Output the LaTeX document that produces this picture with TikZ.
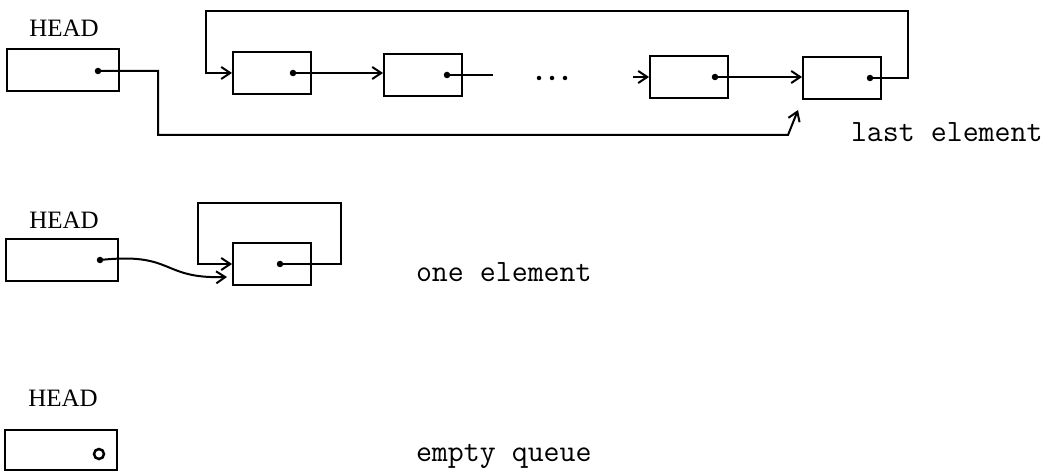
\documentclass[tikz,border=0pt]{standalone}
\usepackage{fontspec}
\setmainfont{Liberation Serif}
\newfontfamily\typewr{Latin Modern Mono}
\usetikzlibrary{arrows.meta}
\begin{document}
\begin{tikzpicture}[x=1pt,y=-1pt,
  line width=2pt,
  cell/.style={draw, rectangle, inner sep=0pt, minimum width=78pt, minimum height=42pt},
  headcell/.style={draw, rectangle, inner sep=0pt, minimum width=112pt, minimum height=42pt},
  headlabel/.style={inner sep=0pt, font=\fontsize{25}{25}\selectfont},
  caption/.style={inner sep=0pt, anchor=base west, font=\typewr\fontsize{31}{33}\selectfont},
  ptr/.style={fill, circle, inner sep=0pt, minimum size=6.5pt},
  link/.style={-{Straight Barb[length=9pt,width=12pt,line width=2pt]}}
]
\useasboundingbox (0,0) rectangle (1050,473);

% ---- queue with several elements ----
\node[headlabel] (lab1) at (64,28) {HEAD};
\node[headcell] (h1) at (62.5,70) {};
\node[ptr] (h1d) at (98,71) {};

\node[cell] (n1) at (272,73) {};
\node[cell] (n2) at (423,75) {};
\node[cell] (n3) at (689,77) {};
\node[cell] (n4) at (842,78) {};
\node[ptr] (n1d) at (293,73) {};
\node[ptr] (n2d) at (447,75) {};
\node[ptr] (n3d) at (715,77) {};
\node[ptr] (n4d) at (870,78) {};

\foreach \i/\x in {1/539,2/552,3/565}
  \node[fill, circle, inner sep=0pt, minimum size=4.5pt] (gap\i) at (\x,78) {};

\coordinate (n2end) at (493,75);
\coordinate (n3in) at (633,77);

\draw[link] (n1d.center) -- (n1d.center -| n2.west);
\draw (n2d.center) -- (n2end);
\draw[link] (n3in) -- (n3.west);
\draw[link] (n3d.center) -- (n3d.center -| n4.west);

% circular link from the last element back to the first
\coordinate (topR) at (908,11);
\coordinate (topL) at (206,11);
\draw[link] (n4d.center) -| (topR) -- (topL) |- (n1.west);

% HEAD points at the last element
\coordinate (hb1) at (158,135);
\coordinate (hb2) at (788,135);
\draw[link] (h1d.center) -| (hb1) -- (hb2) -- ([xshift=-4pt,yshift=-10pt]n4.south west);

\node[caption] (cap1) at (850,142) {last element};

% ---- queue with one element ----
\node[headlabel] (lab2) at (64,220) {HEAD};
\node[headcell] (h2) at (61.5,260) {};
\node[ptr] (h2d) at (100,260) {};

\node[cell] (m1) at (272,264) {};
\node[ptr] (m1d) at (280,264) {};

\draw[link] (h2d.center) .. controls (175,252) and (160,279) .. ([xshift=-5pt,yshift=-13pt]m1.west);

\coordinate (loopR) at (341,203);
\coordinate (loopL) at (198,203);
\draw[link] (m1d.center) -| (loopR) -- (loopL) |- (m1.west);

\node[caption] (cap2) at (415,282) {one element};

% ---- empty queue ----
\node[headlabel] (lab3) at (63,398) {HEAD};
\node[headcell, minimum height=40pt] (h3) at (60.5,450) {};
\node[draw, circle, inner sep=0pt, minimum size=10pt, line width=2.5pt] (nil) at (99,454) {};

\node[caption] (cap3) at (415,461) {empty queue};
\end{tikzpicture}
\end{document}
